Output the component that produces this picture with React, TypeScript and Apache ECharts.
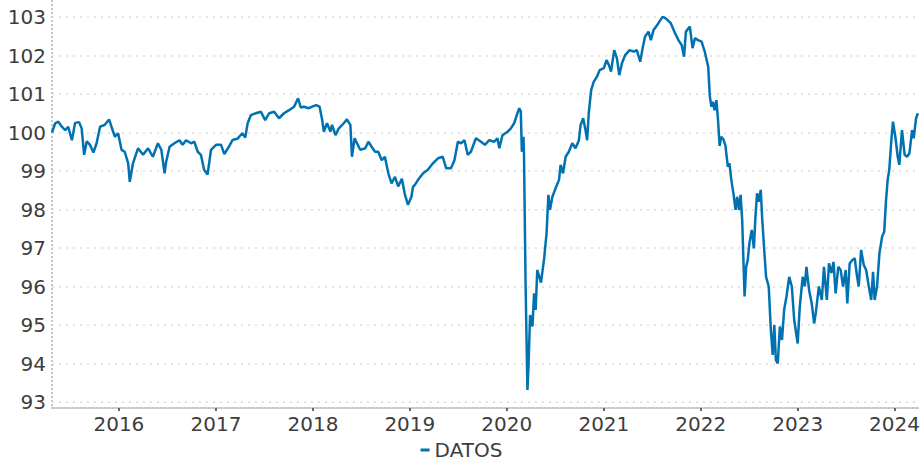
import React, { useEffect, useRef } from "react";
import * as echarts from "echarts";

const seriesName = "DATOS";

const dates: string[] = [
  "2015-04-24","2015-05-06","2015-05-18","2015-05-31","2015-06-13","2015-06-24","2015-07-08","2015-07-20","2015-08-04","2015-08-14",
  "2015-08-23","2015-09-02","2015-09-14","2015-09-27","2015-10-09","2015-10-22","2015-11-09","2015-11-25","2015-12-04","2015-12-17",
  "2015-12-29","2016-01-11","2016-01-23","2016-02-05","2016-02-11","2016-02-23","2016-03-13","2016-04-01","2016-04-20","2016-05-08",
  "2016-05-27","2016-06-09","2016-06-21","2016-06-27","2016-07-10","2016-07-28","2016-08-16","2016-08-28","2016-09-10","2016-09-29",
  "2016-10-11","2016-10-24","2016-11-05","2016-11-17","2016-11-30","2016-12-13","2017-01-01","2017-01-20","2017-02-01","2017-02-20",
  "2017-03-04","2017-03-10","2017-03-23","2017-04-10","2017-04-21","2017-04-30","2017-05-12","2017-05-31","2017-06-19","2017-07-05",
  "2017-07-20","2017-08-08","2017-08-26","2017-09-14","2017-10-03","2017-10-22","2017-11-06","2017-11-16","2017-11-28","2017-12-17",
  "2017-12-29","2018-01-13","2018-01-26","2018-02-05","2018-02-11","2018-02-23","2018-03-08","2018-03-14","2018-03-27","2018-04-08",
  "2018-04-27","2018-05-09","2018-05-22","2018-05-28","2018-06-07","2018-06-16","2018-06-28","2018-07-17","2018-07-29","2018-08-10",
  "2018-08-23","2018-09-04","2018-09-17","2018-09-29","2018-10-12","2018-10-24","2018-11-06","2018-11-18","2018-12-02","2018-12-13",
  "2018-12-25","2019-01-07","2019-01-13","2019-01-20","2019-02-01","2019-02-20","2019-03-10","2019-03-29","2019-04-17","2019-05-05",
  "2019-05-18","2019-06-05","2019-06-18","2019-07-01","2019-07-13","2019-07-26","2019-08-07","2019-08-19","2019-09-07","2019-09-26",
  "2019-10-11","2019-10-27","2019-11-15","2019-11-27","2019-12-04","2019-12-16","2020-01-04","2020-01-16","2020-01-29","2020-02-08",
  "2020-02-17","2020-02-23","2020-02-27","2020-03-04","2020-03-06","2020-03-12","2020-03-19","2020-03-23","2020-03-29","2020-04-07",
  "2020-04-13","2020-04-19","2020-04-25","2020-05-09","2020-05-21","2020-05-30","2020-06-06","2020-06-12","2020-06-21","2020-07-03",
  "2020-07-16","2020-07-22","2020-07-31","2020-08-10","2020-08-22","2020-09-04","2020-09-16","2020-09-29","2020-10-05","2020-10-15",
  "2020-10-24","2020-10-30","2020-11-05","2020-11-14","2020-11-24","2020-12-06","2020-12-16","2021-01-01","2021-01-11","2021-01-20",
  "2021-01-28","2021-02-09","2021-02-19","2021-02-28","2021-03-10","2021-03-22","2021-04-08","2021-04-23","2021-05-05","2021-05-18",
  "2021-05-28","2021-06-05","2021-06-18","2021-06-27","2021-07-07","2021-07-19","2021-07-29","2021-08-11","2021-08-26","2021-09-10",
  "2021-09-26","2021-10-09","2021-10-21","2021-10-30","2021-11-06","2021-11-21","2021-12-01","2021-12-10","2021-12-22","2022-01-04",
  "2022-01-16","2022-01-29","2022-02-04","2022-02-10","2022-02-16","2022-02-22","2022-03-01","2022-03-07","2022-03-13","2022-03-19",
  "2022-03-28","2022-04-04","2022-04-13","2022-04-19","2022-04-26","2022-05-04","2022-05-12","2022-05-18","2022-05-25","2022-05-31",
  "2022-06-06","2022-06-15","2022-06-21","2022-06-27","2022-07-03","2022-07-12","2022-07-20","2022-07-26","2022-08-01","2022-08-07",
  "2022-08-15","2022-08-20","2022-08-28","2022-09-04","2022-09-14","2022-09-22","2022-09-29","2022-10-05","2022-10-11","2022-10-18",
  "2022-10-26","2022-11-03","2022-11-11","2022-11-20","2022-11-30","2022-12-10","2022-12-19","2023-01-01","2023-01-09","2023-01-20",
  "2023-01-28","2023-02-03","2023-02-13","2023-02-23","2023-03-04","2023-03-10","2023-03-22","2023-04-02","2023-04-10","2023-04-21",
  "2023-04-29","2023-05-08","2023-05-16","2023-05-24","2023-06-03","2023-06-12","2023-06-21","2023-07-01","2023-07-07","2023-07-16",
  "2023-07-26","2023-08-04","2023-08-13","2023-08-19","2023-08-28","2023-09-07","2023-09-16","2023-09-26","2023-10-05","2023-10-12",
  "2023-10-18","2023-10-27","2023-11-05","2023-11-15","2023-11-23","2023-11-30","2023-12-06","2023-12-12","2023-12-20","2023-12-26",
  "2024-01-04","2024-01-13","2024-01-19","2024-01-29","2024-02-08","2024-02-17","2024-02-26","2024-03-07","2024-03-13","2024-03-22",
  "2024-03-29"
];

const values: number[] = [
  100.0,100.24,100.28,100.15,100.06,100.15,99.8,100.25,100.27,100.1,
  99.42,99.77,99.68,99.48,99.72,100.15,100.2,100.34,100.15,99.89,
  99.98,99.55,99.5,99.2,98.72,99.2,99.59,99.42,99.59,99.37,
  99.72,99.55,98.94,99.24,99.63,99.72,99.8,99.68,99.8,99.72,
  99.76,99.5,99.42,99.03,98.91,99.55,99.68,99.68,99.44,99.65,
  99.8,99.82,99.84,99.98,99.87,100.24,100.45,100.5,100.54,100.32,
  100.5,100.54,100.37,100.5,100.58,100.67,100.89,100.65,100.67,100.63,
  100.67,100.71,100.67,100.32,100.02,100.24,100.02,100.2,99.93,100.1,
  100.24,100.34,100.2,99.37,99.85,99.72,99.55,99.59,99.76,99.63,
  99.5,99.5,99.28,99.37,98.94,98.68,98.85,98.6,98.8,98.4,
  98.12,98.33,98.59,98.64,98.77,98.94,99.03,99.2,99.33,99.37,
  99.07,99.07,99.28,99.76,99.72,99.8,99.42,99.5,99.85,99.76,
  99.68,99.8,99.76,99.85,99.59,99.93,100.02,100.1,100.24,100.45,
  100.63,100.55,99.5,99.89,99.46,96.08,93.31,93.92,95.26,94.96,
  95.82,95.39,96.43,96.1,96.73,97.38,98.38,97.99,98.33,98.55,
  98.77,99.16,98.94,99.37,99.5,99.72,99.59,99.8,100.19,100.37,
  100.06,99.8,100.5,101.1,101.32,101.45,101.62,101.67,101.88,101.75,
  101.58,102.14,101.93,101.49,101.8,102.01,102.14,102.1,102.14,101.84,
  102.23,102.49,102.62,102.4,102.66,102.77,102.88,103.01,102.94,102.84,
  102.58,102.4,102.27,101.97,102.62,102.75,102.19,102.45,102.4,102.36,
  102.1,101.71,100.95,100.67,100.8,100.58,100.84,100.32,99.65,99.89,
  99.81,99.65,99.11,99.2,98.77,98.42,97.99,98.33,97.99,98.38,
  97.73,95.74,96.51,96.69,97.12,97.47,96.99,97.81,98.42,98.2,
  98.51,97.81,96.95,96.25,96.0,94.87,94.22,95.0,94.09,94.0,
  94.96,94.61,95.39,95.74,96.25,96.0,95.13,94.52,95.48,96.25,
  96.0,96.51,95.91,95.56,95.04,95.3,96.0,95.65,96.51,95.65,
  96.6,96.35,96.64,95.82,96.51,96.43,96.0,96.43,95.56,96.6,
  96.69,96.73,96.25,96.0,96.95,96.56,96.43,96.0,95.65,96.38,
  95.65,96.0,96.86,97.29,97.42,98.25,98.77,99.03,99.8,100.28,
  99.89,99.37,99.16,100.06,99.42,99.37,99.46,100.06,99.85,100.37,
  100.5
];

const yMin = 93;
const yMax = 103;

export default function App() {
  const ref = useRef<HTMLDivElement>(null);

  useEffect(() => {
    document.body.style.margin = "0";
    if (!ref.current) return;
    const chart = echarts.init(ref.current, undefined, { renderer: "svg" });
    const font = "DejaVu Sans";
    const textColor = "#3d3d3d";
    chart.setOption({
      animation: false,
      backgroundColor: "#ffffff",
      textStyle: { fontFamily: font },
      grid: { left: 52, right: 0, top: 17, bottom: 66, containLabel: false },
      legend: {
        data: [{ name: seriesName, icon: "rect" }],
        bottom: 3,
        left: "center",
        itemWidth: 9,
        itemHeight: 3,
        textStyle: { fontFamily: font, fontSize: 20, color: textColor },
      },
      xAxis: {
        type: "time",
        min: dates[0],
        max: dates[dates.length - 1],
        offset: 6,
        minInterval: 365 * 24 * 3600 * 1000,
        maxInterval: 366 * 24 * 3600 * 1000,
        axisLine: { show: true, lineStyle: { color: "#c4c4c4", width: 2, type: [2, 2] } },
        axisTick: { show: true, length: 3, lineStyle: { color: "#666666", width: 2 } },
        axisLabel: {
          fontFamily: font,
          fontSize: 20,
          color: textColor,
          margin: 6,
          formatter: "{yyyy}",
          hideOverlap: false,
          showMinLabel: false,
          showMaxLabel: false,
        },
        splitLine: { show: false },
      },
      yAxis: {
        type: "value",
        min: yMin,
        max: yMax,
        interval: 1,
        axisLine: { show: false },
        axisTick: { show: false },
        axisLabel: { fontFamily: font, fontSize: 20, color: textColor, margin: 6 },
        splitLine: { show: true, lineStyle: { color: "#e3e3e3", width: 2, type: [2, 5] } },
      },
      graphic: [
        {
          type: "line",
          shape: { x1: 52, y1: 0, x2: 52, y2: 408 },
          style: { stroke: "#c4c4c4", lineWidth: 2, lineDash: [2, 2] },
          silent: true,
        },
      ],
      series: [
        {
          name: seriesName,
          type: "line",
          data: dates.map((d, i) => [d, values[i]]),
          showSymbol: false,
          symbol: "none",
          lineStyle: { color: "#0072B2", width: 2.5 },
          itemStyle: { color: "#0072B2" },
        },
      ],
    });
    return () => chart.dispose();
  }, []);

  return <div ref={ref} style={{ width: 923, height: 468 }} />;
}
